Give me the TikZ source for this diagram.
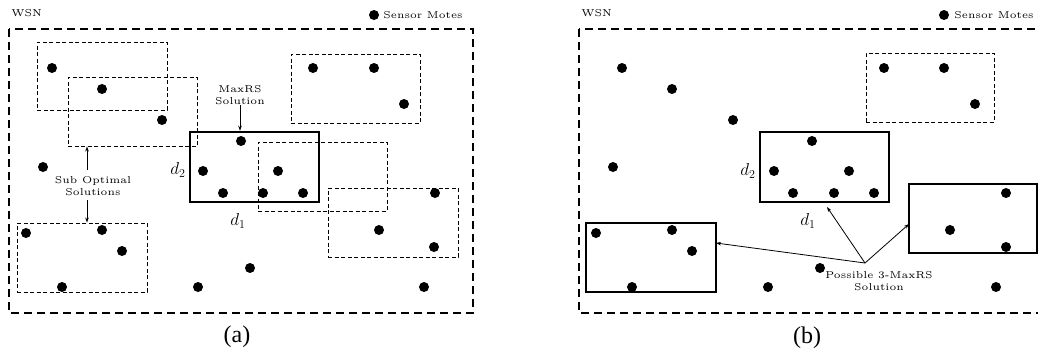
\documentclass[tikz,border=0pt]{standalone}
\usepackage{fontspec}
\newfontfamily\timesfont{Liberation Serif}
\usetikzlibrary{arrows.meta,fit}
\begin{document}
\begin{tikzpicture}[x=1pt,y=-1pt,
  outer/.style={line width=2pt,dash pattern=on 8pt off 5pt},
  dbox/.style={draw,line width=0.9pt,dash pattern=on 4pt off 2.5pt,inner sep=0pt},
  sboxa/.style={draw,line width=2.5pt,inner sep=0pt},
  sboxb/.style={draw,line width=2pt,inner sep=0pt},
  mote/.style={circle,fill=black,inner sep=0pt,minimum size=10pt},
  lbl/.style={font=\fontsize{5}{6}\selectfont,scale=2.0,inner sep=0pt,align=center},
  dlbl/.style={font=\fontsize{17}{17}\selectfont,inner sep=0pt},
  captxt/.style={font=\timesfont\fontsize{24}{24}\selectfont,inner sep=0pt},
  arr/.style={line width=0.8pt,-{Stealth[length=5pt,width=3.5pt]}}]
\useasboundingbox (0,0) rectangle (1038,354);

% ---------------- panel (a)
\draw[outer] (9,29) rectangle (473,313);
\node[lbl,anchor=west] (wsna) at (11,13) {WSN};
\node[mote] (lega) at (374,15) {};
\node[lbl,anchor=west] (legta) at (383,15) {Sensor Motes};

\coordinate (r1p) at (37,42);   \coordinate (r1q) at (167,110);
\coordinate (r2p) at (68,77);   \coordinate (r2q) at (197,146);
\coordinate (r3p) at (291,54);  \coordinate (r3q) at (420,123);
\coordinate (r4p) at (258,142); \coordinate (r4q) at (387,211);
\coordinate (r5p) at (328,188); \coordinate (r5q) at (458,257);
\coordinate (r6p) at (17,223);  \coordinate (r6q) at (147,292);
\node[dbox,fit=(r1p)(r1q)] (r1) {};
\node[dbox,fit=(r2p)(r2q)] (r2) {};
\node[dbox,fit=(r3p)(r3q)] (r3) {};
\node[dbox,fit=(r4p)(r4q)] (r4) {};
\node[dbox,fit=(r5p)(r5q)] (r5) {};
\node[dbox,fit=(r6p)(r6q)] (r6) {};
\coordinate (map) at (190,132); \coordinate (maq) at (319,202);
\node[sboxa,fit=(map)(maq)] (ma) {};

\foreach \p [count=\i] in {(52,68),(102,89),(162,120),(43,167),(241,141),(203,171),
   (223,193),(263,193),(278,171),(303,193),(313,68),(374,68),(404,104),(435,193),
   (26,233),(102,230),(122,251),(62,287),(198,287),(250,268),(379,230),(434,247),(424,287)}
  \node[mote] (a\i) at \p {};

\node[lbl] (mla) at (240,95) {MaxRS\\Solution};
\draw[arr] (mla.south) -- (mla.south |- ma.north);
\node[lbl] (sla) at (93,186.5) {Sub Optimal\\Solutions};
\coordinate (sup) at (87,170); \coordinate (sdn) at (87,200);
\draw[arr] (sup) -- (sup |- r2.south);
\draw[arr] (sdn) -- (sdn |- r6.north);
\node[dlbl] (d2a) at (178,170) {$d_2$};
\node[dlbl] (d1a) at (238,221) {$d_1$};
\node[captxt] (capa) at (237,337) {(a)};

% ---------------- panel (b)
\begin{scope}
\clip (0,0) rectangle (1038,354);
\draw[outer] (579,29) rectangle (1043,313);
\end{scope}
\node[lbl,anchor=west] (wsnb) at (581,13) {WSN};
\node[mote] (legb) at (944,15) {};
\node[lbl,anchor=west] (legtb) at (954,15) {Sensor Motes};

\coordinate (s3p) at (866,53); \coordinate (s3q) at (994,122);
\node[dbox,fit=(s3p)(s3q)] (s3) {};
\coordinate (mbp) at (760,132); \coordinate (mbq) at (889,202);
\node[sboxb,fit=(mbp)(mbq)] (mb) {};
\coordinate (lbp) at (586,223); \coordinate (lbq) at (716,292);
\node[sboxb,fit=(lbp)(lbq)] (lb) {};
\coordinate (rbp) at (909,184); \coordinate (rbq) at (1037,253);
\node[sboxb,fit=(rbp)(rbq)] (rb) {};

\foreach \p [count=\i] in {(622,68),(672,89),(733,120),(613,167),(812,141),(774,171),
   (793,193),(834,193),(849,171),(874,193),(884,68),(944,68),(975,104),(1006,193),
   (596,233),(672,230),(692,251),(632,287),(768,287),(820,268),(950,230),(1006,247),(996,287)}
  \node[mote] (b\i) at \p {};

\node[lbl] (plb) at (879,281) {Possible 3-MaxRS\\Solution};
\coordinate (src) at (865,263);
\coordinate (t1) at (827,207);
\coordinate (t2) at (909,224);
\coordinate (t3) at (716,243);
\draw[arr] (src) -- (t1);
\draw[arr] (src) -- (t2);
\draw[arr] (src) -- (t3);
\node[dlbl] (d2b) at (748,171) {$d_2$};
\node[dlbl] (d1b) at (808,221) {$d_1$};
\node[captxt] (capb) at (807,338) {(b)};
\end{tikzpicture}
\end{document}
